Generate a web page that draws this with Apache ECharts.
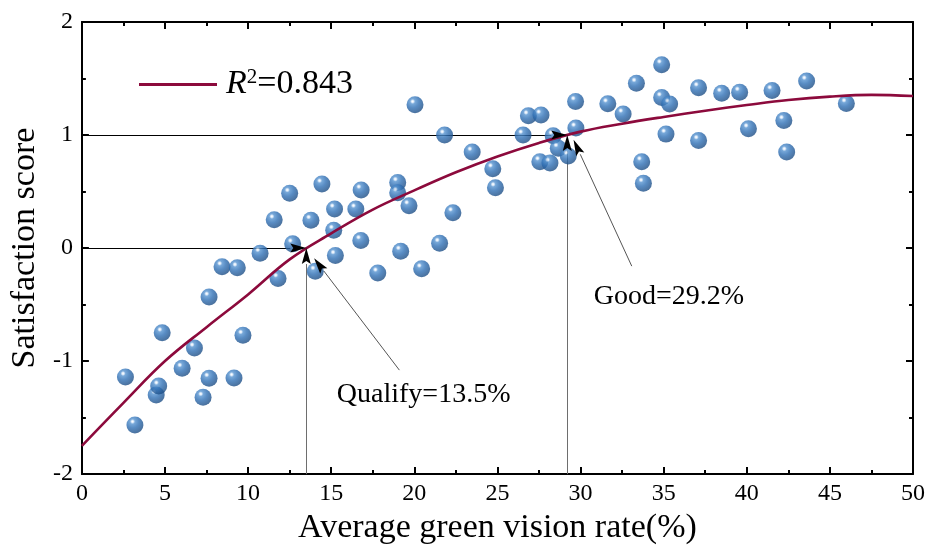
<!DOCTYPE html>
<html>
<head>
<meta charset="utf-8">
<title>Satisfaction vs green vision rate</title>
<script src="https://cdn.jsdelivr.net/npm/echarts@6/dist/echarts.min.js"></script>
<style>
  html, body { margin: 0; padding: 0; background: #fff; }
  #chart { width: 930px; height: 550px; }
</style>
</head>
<body>
<div id="chart"></div>
<script>
// Survey samples: average green vision rate (%) and satisfaction score
const greenRate = [
  2.62, 3.19, 4.47, 4.62, 4.83, 6.03, 6.77, 7.29, 7.65, 7.65,
  8.43, 9.35, 9.15, 9.69, 10.72, 11.57, 11.8, 12.5, 12.68, 13.78,
  14.04, 14.44, 15.2, 15.15, 15.25, 16.48, 16.8, 16.78, 17.8, 19.0,
  19.0, 19.68, 19.18, 20.04, 20.44, 21.52, 21.82, 22.32, 23.48, 24.72,
  24.88, 26.54, 26.86, 27.62, 27.55, 28.16, 28.35, 28.66, 29.26, 29.7,
  29.72, 31.64, 32.56, 33.36, 33.68, 33.78, 34.88, 34.88, 35.36, 35.14,
  37.1, 37.1, 38.49, 39.57, 40.1, 41.52, 42.23, 42.4, 43.6, 45.99
];
const satisfaction = [
  -1.14, -1.565, -1.30, -1.22, -0.75, -1.064, -0.884, -1.32, -1.152, -0.434,
  -0.165, -0.175, -1.149, -0.772, -0.045, 0.25, -0.27, 0.484, 0.037, 0.245,
  -0.205, 0.567, 0.346, 0.157, -0.066, 0.346, 0.514, 0.066, -0.22, 0.58,
  0.49, 0.375, -0.028, 1.267, -0.184, 0.042, 1.0, 0.313, 0.849, 0.702,
  0.534, 1.0, 1.17, 1.177, 0.764, 0.752, 0.993, 0.882, 0.815, 1.296,
  1.062, 1.277, 1.187, 1.458, 0.764, 0.573, 1.622, 1.331, 1.275, 1.008,
  1.419, 0.951, 1.37, 1.379, 1.055, 1.393, 1.128, 0.849, 1.478, 1.278
];

// Fitted trend curve (R² = 0.843)
const fitX = [0, 2.5, 5, 7.5, 10, 12.5, 15, 17.5, 20, 22.5, 25, 27.5, 30, 32.5, 35, 37.5, 40, 42.5, 45, 47.5, 50];
const fitY = [-1.75, -1.37, -1.0, -0.70, -0.41, -0.10, 0.13, 0.34, 0.51, 0.67, 0.81, 0.93, 1.03, 1.10, 1.16, 1.215, 1.265, 1.31, 1.34, 1.355, 1.345];
const fitName = 'R2=0.843';

// Threshold values
const qualifyRate = 13.5;   // score = 0
const goodRate = 29.2;      // score = 1
const qualifyScore = 0;
const goodScore = 1;

// Annotation callouts: [from x, from y, to x, to y, line kind]
// kind 0 = guide to y axis, 1 = guide from x axis, 2 = label leader
const arrowStartX = [0, qualifyRate, 0, goodRate, 19.1, 33.08];
const arrowStartY = [qualifyScore, -2, goodScore, -2, -1.08, -0.16];
const arrowEndX = [qualifyRate, qualifyRate, goodRate, goodRate, 13.97, 29.58];
const arrowEndY = [qualifyScore, qualifyScore, goodScore, goodScore, -0.09, 0.958];
const arrowKind = [0, 1, 0, 1, 2, 2];

const calloutText = ['Qualify=13.5%', 'Good=29.2%'];
const calloutX = [20.56, 35.32];
const calloutY = [-1.293, -0.428];

// Axis ranges
const xMin = 0, xMax = 50, xStep = 5;
const yMin = -2, yMax = 2, yStep = 1;

const serif = "'Times New Roman', 'Liberation Serif', serif";

const points = greenRate.map((x, i) => [x, satisfaction[i]]);
const curve = fitX.map((x, i) => [x, fitY[i]]);
const arrows = arrowStartX.map((x, i) => [x, arrowStartY[i], arrowEndX[i], arrowEndY[i], arrowKind[i]]);
const callouts = calloutText.map((t, i) => ({ name: t, value: [calloutX[i], calloutY[i]] }));

const lineColors = ['#000000', '#6e6e6e', '#555555'];

// Snap axis-parallel 1px guides to the pixel grid so they stay crisp
function crisp(v) { return Math.round(v - 0.5) + 0.5; }

function arrowParts(api, part) {
  const p1 = api.coord([api.value(0), api.value(1)]);
  const p2 = api.coord([api.value(2), api.value(3)]);
  const kind = api.value(4);
  const dx = p2[0] - p1[0], dy = p2[1] - p1[1];
  const len = Math.sqrt(dx * dx + dy * dy) || 1;
  const ux = dx / len, uy = dy / len;
  const headLen = 16, headHalf = 4.5;
  const bx = p2[0] - ux * headLen, by = p2[1] - uy * headLen;
  if (part === 'line') {
    let x1 = p1[0], y1 = p1[1], x2 = bx, y2 = by;
    if (kind === 0) { y1 = y2 = crisp(y1); }
    if (kind === 1) { x1 = x2 = crisp(x1); }
    return {
      type: 'line',
      shape: { x1: x1, y1: y1, x2: x2, y2: y2 },
      style: { stroke: lineColors[kind], lineWidth: 1 }
    };
  }
  return {
    type: 'polygon',
    shape: {
      points: [
        [p2[0], p2[1]],
        [bx - uy * headHalf, by + ux * headHalf],
        [bx + ux * 3, by + uy * 3],
        [bx + uy * headHalf, by - ux * headHalf]
      ]
    },
    style: { fill: '#000' }
  };
}

const sphere = {
  type: 'radial', x: 0.36, y: 0.3, r: 0.75,
  colorStops: [
    { offset: 0, color: '#ffffff' },
    { offset: 0.08, color: '#dceafa' },
    { offset: 0.2, color: '#5592cf' },
    { offset: 0.5, color: '#2f6fb4' },
    { offset: 1, color: '#1b4a80' }
  ]
};

const axisCommon = {
  type: 'value',
  axisLine: { onZero: false, lineStyle: { color: '#000', width: 2 } },
  axisTick: { inside: true, length: 7, lineStyle: { color: '#000', width: 2 } },
  minorTick: { show: true, splitNumber: 2, length: 4, lineStyle: { color: '#000', width: 2 } },
  splitLine: { show: false },
  minorSplitLine: { show: false }
};

const chart = echarts.init(document.getElementById('chart'), null, { renderer: 'canvas' });
chart.setOption({
  animation: false,
  backgroundColor: '#ffffff',
  grid: { left: 80, right: 17, top: 22, bottom: 75, containLabel: false },
  legend: {
    left: 134, top: 62,
    icon: 'rect', itemWidth: 78, itemHeight: 3, itemGap: 10,
    data: [fitName],
    formatter: () => '{r|R}{s|2}{t|=0.843}',
    textStyle: {
      fontFamily: serif, color: '#000',
      rich: {
        r: { fontFamily: serif, fontSize: 34, fontStyle: 'italic', color: '#000', padding: [0, 0, 0, 4] },
        s: { fontFamily: serif, fontSize: 21, color: '#000', verticalAlign: 'top', padding: [0, 0, 14, 0] },
        t: { fontFamily: serif, fontSize: 34, color: '#000' }
      }
    }
  },
  xAxis: [
    Object.assign({}, axisCommon, {
      min: xMin, max: xMax, interval: xStep, position: 'bottom',
      name: 'Average green vision rate(%)', nameLocation: 'middle', nameGap: 36,
      nameTextStyle: { fontFamily: serif, fontSize: 34, color: '#000' },
      axisLabel: { fontFamily: serif, fontSize: 24, color: '#000', margin: 8 }
    }),
    Object.assign({}, axisCommon, {
      min: xMin, max: xMax, interval: xStep, position: 'top',
      axisLabel: { show: false }
    })
  ],
  yAxis: [
    Object.assign({}, axisCommon, {
      min: yMin, max: yMax, interval: yStep, position: 'left',
      name: 'Satisfaction score', nameLocation: 'middle', nameGap: 36,
      nameTextStyle: { fontFamily: serif, fontSize: 34, color: '#000' },
      axisLabel: { fontFamily: serif, fontSize: 24, color: '#000', margin: 9 }
    }),
    Object.assign({}, axisCommon, {
      min: yMin, max: yMax, interval: yStep, position: 'right',
      axisLabel: { show: false }
    })
  ],
  series: [
    {
      type: 'custom', name: 'guides', z: 1, silent: true,
      renderItem: (params, api) => arrowParts(api, 'line'),
      encode: { x: [0, 2], y: [1, 3] },
      data: arrows, clip: false
    },
    {
      type: 'scatter', name: 'samples', z: 2,
      symbol: 'circle', symbolSize: 17,
      itemStyle: { color: sphere },
      data: points
    },
    {
      type: 'line', name: fitName, z: 3,
      smooth: 0.4, symbol: 'none',
      lineStyle: { color: '#8c0a3c', width: 2.6 },
      itemStyle: { color: '#8c0a3c' },
      data: curve
    },
    {
      type: 'custom', name: 'heads', z: 4, silent: true,
      renderItem: (params, api) => arrowParts(api, 'head'),
      encode: { x: [0, 2], y: [1, 3] },
      data: arrows, clip: false
    },
    {
      type: 'scatter', name: 'callouts', z: 4, silent: true,
      symbolSize: 1, itemStyle: { color: 'rgba(255,255,255,0)' },
      label: {
        show: true, position: 'inside', formatter: '{b}',
        fontFamily: serif, fontSize: 28, color: '#000',
        textBorderWidth: 0, textBorderColor: 'transparent', opacity: 1
      },
      labelLayout: { hideOverlap: false },
      data: callouts
    }
  ]
});
</script>
</body>
</html>
